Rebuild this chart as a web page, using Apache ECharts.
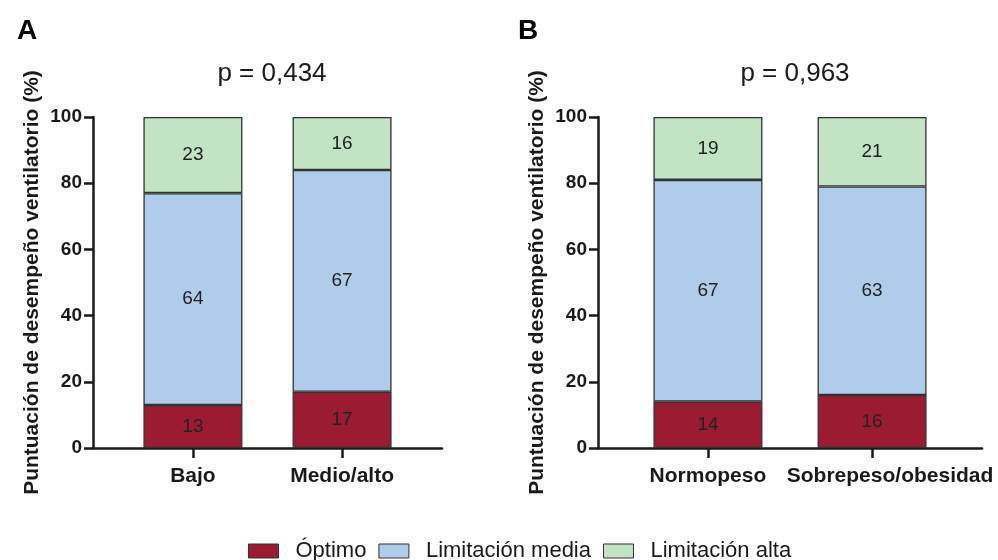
<!DOCTYPE html>
<html>
<head>
<meta charset="utf-8">
<script src="https://cdn.jsdelivr.net/npm/echarts@6/dist/echarts.min.js"></script>
<style>
html,body{margin:0;padding:0;background:#fff;}
#chart{width:998px;height:560px;}
</style>
</head>
<body>
<div id="chart"></div>
<script>
// ---- data ----
const catsA = ['Bajo', 'Medio/alto'];
const catsB = ['Normopeso', 'Sobrepeso/obesidad'];
const optimoA = [13, 17];
const mediaA = [64, 67];
const altaA = [23, 16];
const optimoB = [14, 16];
const mediaB = [67, 63];
const altaB = [19, 21];
const yTicks = [0, 20, 40, 60, 80, 100];
const pTitles = ['p = 0,434', 'p = 0,963'];
const panelLetters = ['A', 'B'];
const seriesNames = ['Óptimo', 'Limitación media', 'Limitación alta'];
const yTitle = 'Puntuación de desempeño ventilatorio (%)';

// ---- styles ----
const FONT = 'Liberation Sans, Arial, Helvetica, sans-serif';
const colors = ['#9b1b32', '#afcdea', '#c3e3c5'];
const ink = '#1a1a1a';
const panels = [
  { cats: catsA, vals: [optimoA, mediaA, altaA], left: 93, width: 349, barWidth: 99, titleX: 267, letterX: 12, labelShift: [0, 0] },
  { cats: catsB, vals: [optimoB, mediaB, altaB], left: 598, width: 384, barWidth: 109, titleX: 790, letterX: 513, labelShift: [0, 36] }
];

const grids = [], xAxes = [], yAxes = [], series = [], titles = [];
panels.forEach((p, pi) => {
  grids.push({ left: p.left, width: p.width, top: 117, height: 331, containLabel: false });
  const idx = p.cats.map((c, i) => i);
  const rich = {};
  p.labelShift.forEach((s, i) => {
    rich['c' + i] = { fontFamily: FONT, fontWeight: 'bold', fontSize: 21, color: ink, padding: [0, 0, 0, s] };
  });
  xAxes.push({
    gridIndex: pi, type: 'value', min: -0.67, max: 1.67,
    splitLine: { show: false },
    axisLine: { show: true, onZero: false, lineStyle: { color: ink, width: 2.5 } },
    axisTick: { show: true, customValues: idx, length: 10, lineStyle: { color: ink, width: 2.5 } },
    axisLabel: {
      show: true, customValues: idx, margin: 18,
      formatter: v => {
        const i = Math.round(v);
        return p.cats[i] ? '{c' + i + '|' + p.cats[i] + '}' : '';
      },
      rich: rich,
      fontFamily: FONT, fontWeight: 'bold', fontSize: 21, color: ink
    }
  });
  yAxes.push({
    gridIndex: pi, type: 'value', min: yTicks[0], max: yTicks[yTicks.length - 1], interval: 20,
    splitLine: { show: false },
    axisLine: { show: true, onZero: false, lineStyle: { color: ink, width: 2.5 } },
    axisTick: { show: true, length: 9, lineStyle: { color: ink, width: 2.5 } },
    axisLabel: { margin: 11, fontFamily: FONT, fontWeight: 'bold', fontSize: 19, color: ink },
    name: yTitle, nameLocation: 'middle', nameGap: 50, nameRotate: 90,
    nameTextStyle: { fontFamily: FONT, fontWeight: 'bold', fontSize: 21, color: ink }
  });
  p.vals.forEach((arr, si) => {
    series.push({
      type: 'bar', name: seriesNames[si], stack: 'panel' + pi,
      xAxisIndex: pi, yAxisIndex: pi, barWidth: p.barWidth,
      // value first so that stacking happens on the y dimension
      data: arr.map((v, i) => [v, i]),
      encode: { x: 1, y: 0 },
      itemStyle: { color: colors[si], borderColor: '#333', borderWidth: 1.3 },
      label: {
        show: true, position: 'inside', formatter: d => d.value[0],
        fontFamily: FONT, fontSize: 19, color: '#222'
      },
      emphasis: { disabled: true }
    });
  });
  titles.push({
    text: pTitles[pi], left: p.titleX, top: 56, textAlign: 'center',
    textStyle: { fontFamily: FONT, fontWeight: 'normal', fontSize: 26, color: ink }
  });
  titles.push({
    text: panelLetters[pi], left: p.letterX, top: 12,
    textStyle: { fontFamily: FONT, fontWeight: 'bold', fontSize: 28, color: '#000' }
  });
});

const chart = echarts.init(document.getElementById('chart'), null, { renderer: 'canvas' });
chart.setOption({
  backgroundColor: '#fff',
  animation: false,
  title: titles,
  legend: {
    data: seriesNames, left: 243, top: 535,
    itemWidth: 30, itemHeight: 14, itemGap: 12, icon: 'rect',
    itemStyle: { borderColor: '#333', borderWidth: 1 },
    textStyle: { fontFamily: FONT, fontSize: 22, color: ink, padding: [0, 0, 0, 12] },
    selectedMode: false
  },
  grid: grids,
  xAxis: xAxes,
  yAxis: yAxes,
  series: series
});
</script>
</body>
</html>
